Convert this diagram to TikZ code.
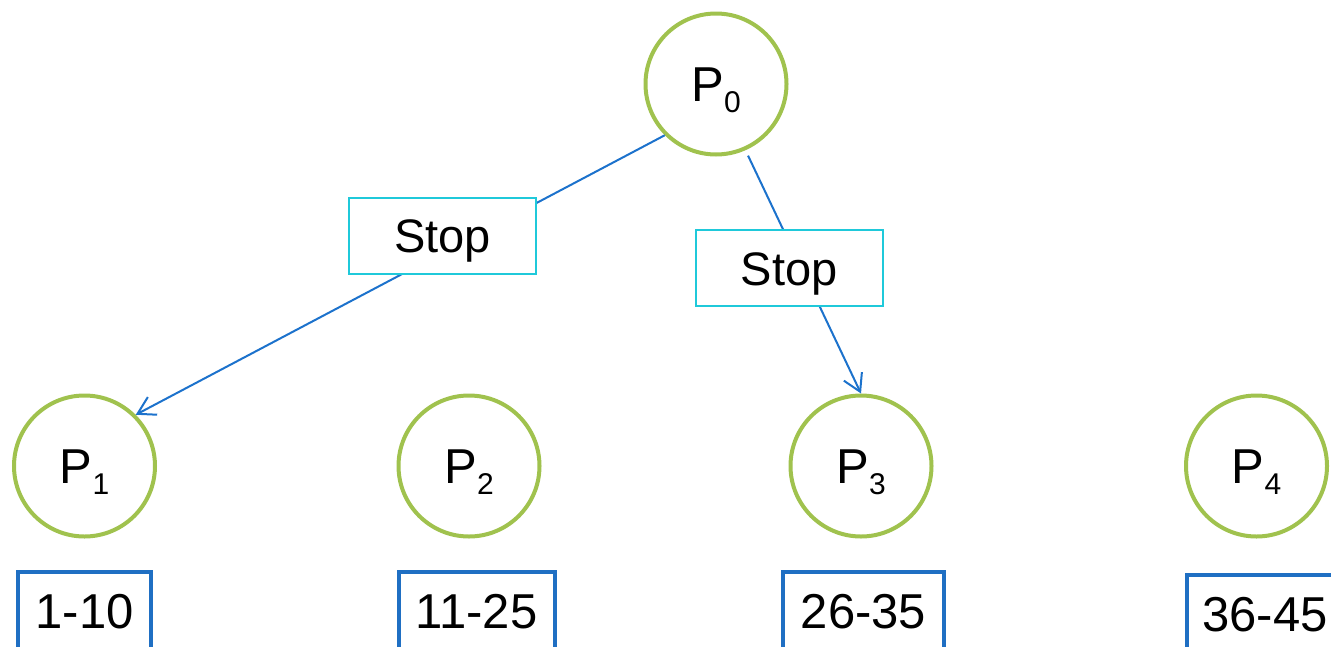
\documentclass[tikz,border=0pt]{standalone}
\usepackage{fontspec}
\setmainfont{Liberation Sans}
\usetikzlibrary{arrows.meta}

\definecolor{procgreen}{HTML}{A0C24E}
\definecolor{stopcyan}{HTML}{1FC9DA}
\definecolor{linkblue}{HTML}{1C72CC}
\definecolor{rangeblue}{HTML}{1F6FC3}

% process label: P with a lowered index
\newcommand\procname[1]{P\raisebox{-11pt}{\fontsize{30}{30}\selectfont #1}}

\begin{document}
\begin{tikzpicture}[x=1pt,y=-1pt,
  proc/.style={circle, draw=procgreen, line width=4pt, minimum size=141pt,
    inner sep=0pt, fill=white, font=\fontsize{49}{49}\selectfont,
    text height=35pt, text depth=0pt},
  stopbox/.style={draw=stopcyan, line width=2pt, fill=white,
    minimum width=187pt, minimum height=76pt, inner sep=0pt,
    font=\fontsize{47}{47}\selectfont, text height=34pt, text depth=0pt},
  rangebox/.style={draw=rangeblue, line width=4pt, anchor=north, inner sep=0pt,
    font=\fontsize{49}{49}\selectfont, text height=56pt, text depth=70pt},
  link/.style={draw=linkblue, line width=2pt,
    -{Straight Barb[length=17pt,width=20pt]}}]

\useasboundingbox (0,0) rectangle (1331,646);
\clip (0,0) rectangle (1331,646);

% processes
\node[proc] (p0) at (716,84) {\procname{0}};
\node[proc] (p1) at (84.5,466) {\procname{1}};
\node[proc] (p2) at (469,466) {\procname{2}};
\node[proc] (p3) at (861,466) {\procname{3}};
\node[proc] (p4) at (1256.5,466) {\procname{4}};

% messages from P0
\draw[link] (p0.225) -- (p1.45);
\draw[link, shorten <=6pt] (p0.294) -- (p3.north);

% stop labels sitting on the messages
\node[stopbox] (s1) at (442.5,235.5) {Stop};
\node[stopbox] (s2) at (789,268) {Stop};

% ranges held by each process
\node[rangebox, minimum width=133pt] (r1) at (84.5,570) {1-10};
\node[rangebox, minimum width=156pt] (r2) at (476.5,570) {11-25};
\node[rangebox, minimum width=161pt] (r3) at (863.5,570) {26-35};
\node[rangebox, minimum width=156pt] (r4) at (1265,573) {36-45};
\end{tikzpicture}
\end{document}
